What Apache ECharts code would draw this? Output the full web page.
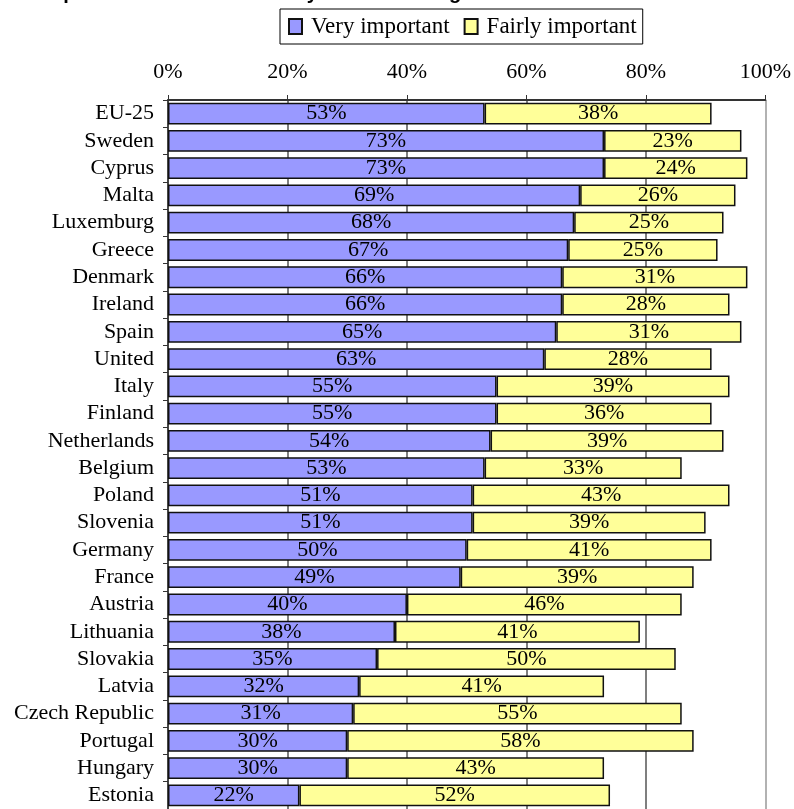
<!DOCTYPE html>
<html>
<head>
<meta charset="utf-8">
<script src="https://cdn.jsdelivr.net/npm/echarts@6/dist/echarts.min.js"></script>
<style>
html,body{margin:0;padding:0;background:#fff;}
#chart{width:794px;height:809px;}
</style>
</head>
<body>
<div id="chart"></div>
<script>
const categories = ["EU-25","Sweden","Cyprus","Malta","Luxemburg","Greece","Denmark","Ireland","Spain","United","Italy","Finland","Netherlands","Belgium","Poland","Slovenia","Germany","France","Austria","Lithuania","Slovakia","Latvia","Czech Republic","Portugal","Hungary","Estonia"];
const veryImportant = [53,73,73,69,68,67,66,66,65,63,55,55,54,53,51,51,50,49,40,38,35,32,31,30,30,22];
const fairlyImportant = [38,23,24,26,25,25,31,28,31,28,39,36,39,33,43,39,41,39,46,41,50,41,55,58,43,52];
const seriesNames = ["Very important","Fairly important"];
const titleText = "Importance of leisure time by nation ranking";

const serif = '"Liberation Serif","Times New Roman",serif';
const chart = echarts.init(document.getElementById('chart'), null, {renderer:'canvas'});
const labelStyle = {show:true, position:'inside', formatter: p => p.value + '%', color:'#000', fontFamily:serif, fontSize:22};
chart.setOption({
  animation:false,
  backgroundColor:'#fff',
  graphic:[{type:'text', left:40, top:-17, style:{text:titleText, font:'bold 20px "Liberation Sans", Arial, sans-serif', fill:'#000'}}],
  legend:{
    left:280, top:9,
    padding:[6,6,6,8],
    borderColor:'#000', borderWidth:1,
    itemWidth:13, itemHeight:15, itemGap:14,
    icon:'rect',
    textStyle:{fontFamily:serif, fontSize:23, color:'#000', padding:[0,0,0,4]},
    data:seriesNames
  },
  grid:{left:168, top:100, width:599, height:712, containLabel:false},
  xAxis:{
    type:'value', position:'top', min:0, max:100, interval:20,
    axisLine:{show:true, lineStyle:{color:'#333', width:2}},
    axisTick:{show:true, length:5, lineStyle:{color:'#333'}},
    axisLabel:{formatter:'{value}%', fontFamily:serif, fontSize:22, color:'#000', margin:17},
    splitLine:{show:true, lineStyle:{color:['#555','#555','#555','#555','#555','#999'], width:1.5}}
  },
  yAxis:{
    type:'category', inverse:true, data:categories,
    axisLine:{show:true, lineStyle:{color:'#333', width:1.5}},
    axisTick:{show:true, length:5, interval:0, lineStyle:{color:'#333'}},
    axisLabel:{interval:0, fontFamily:serif, fontSize:22, color:'#000', margin:14}
  },
  series:[
    {name:seriesNames[0], type:'bar', stack:'a', data:veryImportant, barCategoryGap:'20%',
     itemStyle:{color:'#9999FF', borderColor:'#111', borderWidth:1.5}, label:labelStyle},
    {name:seriesNames[1], type:'bar', stack:'a', data:fairlyImportant, barCategoryGap:'20%',
     itemStyle:{color:'#FFFF99', borderColor:'#111', borderWidth:1.5}, label:labelStyle}
  ]
});
</script>
</body>
</html>
